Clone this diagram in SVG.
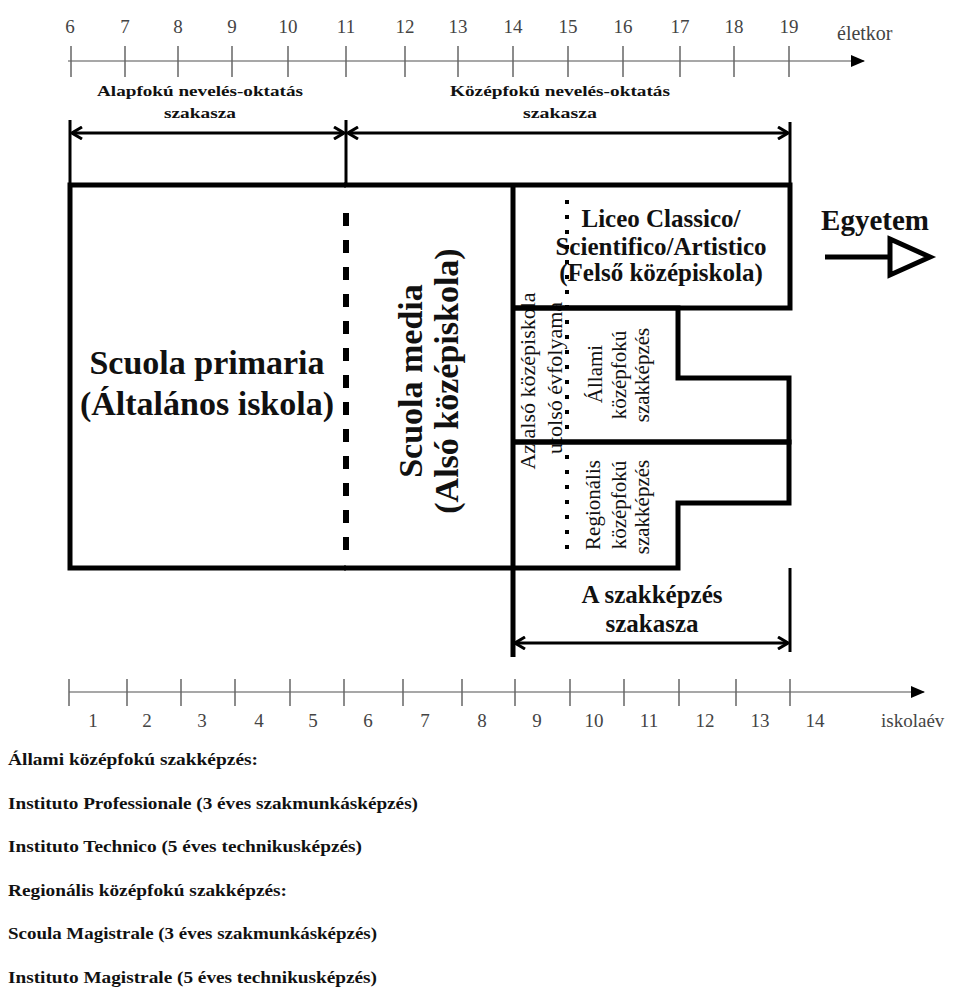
<svg xmlns="http://www.w3.org/2000/svg" width="962" height="987" viewBox="0 0 962 987">
<style>
  text { font-family: "Liberation Serif", "Times New Roman", serif; fill: #111; }
  .num { font-size: 19px; fill: #444; text-anchor: middle; }
  .axis { stroke: #8a8a8a; stroke-width: 1.6; fill: none; }
  .tick { stroke: #666; stroke-width: 1.5; }
  .thick { stroke: #000; stroke-width: 5; fill: none; }
  .brk { stroke: #000; stroke-width: 3; fill: none; }
  .hdr { font-size: 15px; font-weight: bold; text-anchor: middle; }
  .big { font-size: 34px; font-weight: bold; text-anchor: middle; }
  .mid { font-size: 25px; font-weight: bold; text-anchor: middle; }
  .small { font-size: 21px; text-anchor: middle; }
  .leg { font-size: 16px; font-weight: bold; }
</style>
<defs>
  <marker id="chev" viewBox="0 0 12 14" refX="11" refY="7" markerWidth="12" markerHeight="14" markerUnits="userSpaceOnUse" orient="auto-start-reverse">
    <path d="M1,1 L11,7 L1,13" fill="none" stroke="#000" stroke-width="3"/>
  </marker>
  <marker id="tri" viewBox="0 0 14 12" refX="13" refY="6" markerWidth="14" markerHeight="12" markerUnits="userSpaceOnUse" orient="auto">
    <path d="M0,0 L14,6 L0,12 Z" fill="#000"/>
  </marker>
</defs>

<g id="axis-age">
  <line class="axis" x1="68" y1="61" x2="864" y2="61" marker-end="url(#tri)"/>
  <g class="tick">
    <line x1="71" y1="46" x2="71" y2="77"/><line x1="125" y1="46" x2="125" y2="77"/>
    <line x1="178" y1="46" x2="178" y2="77"/><line x1="232" y1="46" x2="232" y2="77"/>
    <line x1="288" y1="46" x2="288" y2="77"/><line x1="346" y1="46" x2="346" y2="77"/>
    <line x1="405" y1="46" x2="405" y2="77"/><line x1="458" y1="46" x2="458" y2="77"/>
    <line x1="513" y1="46" x2="513" y2="77"/><line x1="568" y1="46" x2="568" y2="77"/>
    <line x1="623" y1="46" x2="623" y2="77"/><line x1="680" y1="46" x2="680" y2="77"/>
    <line x1="734" y1="46" x2="734" y2="77"/><line x1="789" y1="46" x2="789" y2="77"/>
  </g>
  <text class="num" x="70" y="33">6</text><text class="num" x="125" y="33">7</text>
  <text class="num" x="178" y="33">8</text><text class="num" x="232" y="33">9</text>
  <text class="num" x="288" y="33">10</text><text class="num" x="346" y="33">11</text>
  <text class="num" x="405" y="33">12</text><text class="num" x="458" y="33">13</text>
  <text class="num" x="513" y="33">14</text><text class="num" x="568" y="33">15</text>
  <text class="num" x="623" y="33">16</text><text class="num" x="680" y="33">17</text>
  <text class="num" x="734" y="33">18</text><text class="num" x="789" y="33">19</text>
  <text x="837" y="40" style="font-size:20px;fill:#444">életkor</text>
</g>

<g id="stage-labels">
  <text class="hdr" x="200" y="96" textLength="206" lengthAdjust="spacingAndGlyphs">Alapfokú nevelés-oktatás</text>
  <text class="hdr" x="200" y="118" textLength="72" lengthAdjust="spacingAndGlyphs">szakasza</text>
  <text class="hdr" x="560" y="96" textLength="220" lengthAdjust="spacingAndGlyphs">Középfokú nevelés-oktatás</text>
  <text class="hdr" x="560" y="118" textLength="74" lengthAdjust="spacingAndGlyphs">szakasza</text>
</g>

<g id="primaria">
  <path class="thick" d="M346,185 H70 V568 H346"/>
  <text class="big" x="207" y="374">Scuola primaria</text>
  <text class="big" x="207" y="415">(Általános iskola)</text>
</g>

<g id="media">
  <path class="thick" d="M344,185 H513 M344,568 H513"/>
  <line x1="346" y1="213" x2="346" y2="552" stroke="#000" stroke-width="6" stroke-dasharray="13 14"/>
  <text class="big" x="422" y="381" transform="rotate(-90 422 381)">Scuola media</text>
  <text class="big" x="458" y="381" transform="rotate(-90 458 381)">(Alsó középiskola)</text>
</g>

<g id="liceo">
  <path class="thick" d="M513,185 H790 V308 H513"/>
  <text class="mid" x="661" y="227">Liceo Classico/</text>
  <text class="mid" x="661" y="255">Scientifico/Artistico</text>
  <text class="mid" x="661" y="281">(Felső középiskola)</text>
</g>

<g id="utolso-evfolyam">
  <line x1="567" y1="200" x2="567" y2="560" stroke="#000" stroke-width="4" stroke-dasharray="4 11"/>
  <text class="small" x="535" y="381" style="font-size:22px" transform="rotate(-90 535 381)">Az alsó középiskola</text>
  <text class="small" x="562" y="378" style="font-size:22px" transform="rotate(-90 562 378)">utolsó évfolyama</text>
</g>

<g id="allami">
  <path class="thick" d="M513,308 H678 V378 H789 V442 H513"/>
  <text class="small" x="602" y="374" transform="rotate(-90 602 374)">Állami</text>
  <text class="small" x="626" y="375" transform="rotate(-90 626 375)">középfokú</text>
  <text class="small" x="649" y="375" transform="rotate(-90 649 375)">szakképzés</text>
</g>

<g id="regionalis">
  <path class="thick" d="M513,442 H789 V503 H678 V568 H513"/>
  <text class="small" x="600" y="505" transform="rotate(-90 600 505)">Regionális</text>
  <text class="small" x="626" y="505" transform="rotate(-90 626 505)">középfokú</text>
  <text class="small" x="649" y="507" transform="rotate(-90 649 507)">szakképzés</text>
</g>

<g id="egyetem">
  <text x="875" y="230" style="font-size:29px;font-weight:bold;text-anchor:middle">Egyetem</text>
</g>

<g id="szakkepzes-label">
  <text class="mid" x="652" y="603">A szakképzés</text>
  <text class="mid" x="652" y="632">szakasza</text>
</g>

<g id="connectors">
  <line class="thick" x1="513" y1="185" x2="513" y2="657" stroke-width="4"/>
  <line class="brk" x1="70" y1="120" x2="70" y2="185"/>
  <line class="brk" x1="346" y1="120" x2="346" y2="185" stroke-width="4"/>
  <line class="brk" x1="790" y1="122" x2="790" y2="185"/>
  <line class="brk" x1="72" y1="133" x2="344" y2="133" marker-start="url(#chev)" marker-end="url(#chev)"/>
  <line class="brk" x1="348" y1="133" x2="788" y2="133" marker-start="url(#chev)" marker-end="url(#chev)"/>
  <line class="brk" x1="790" y1="568" x2="790" y2="652"/>
  <line class="brk" x1="515" y1="643" x2="788" y2="643" marker-start="url(#chev)" marker-end="url(#chev)"/>
  <line x1="825" y1="257" x2="890" y2="257" stroke="#000" stroke-width="5"/>
  <path d="M890,239 L930,257 L890,275 Z" fill="#fff" stroke="#000" stroke-width="5" stroke-linejoin="miter"/>
</g>

<g id="axis-school">
  <line class="axis" x1="69" y1="692" x2="924" y2="692" marker-end="url(#tri)"/>
  <g class="tick">
    <line x1="69" y1="679" x2="69" y2="706"/><line x1="127" y1="679" x2="127" y2="706"/>
    <line x1="181" y1="679" x2="181" y2="706"/><line x1="235" y1="679" x2="235" y2="706"/>
    <line x1="290" y1="679" x2="290" y2="706"/><line x1="344" y1="679" x2="344" y2="706"/>
    <line x1="403" y1="679" x2="403" y2="706"/><line x1="462" y1="679" x2="462" y2="706"/>
    <line x1="515" y1="679" x2="515" y2="706"/><line x1="570" y1="679" x2="570" y2="706"/>
    <line x1="624" y1="679" x2="624" y2="706"/><line x1="679" y1="679" x2="679" y2="706"/>
    <line x1="736" y1="679" x2="736" y2="706"/><line x1="790" y1="679" x2="790" y2="706"/>
  </g>
  <text class="num" x="93" y="727">1</text><text class="num" x="147" y="727">2</text>
  <text class="num" x="202" y="727">3</text><text class="num" x="259" y="727">4</text>
  <text class="num" x="313" y="727">5</text><text class="num" x="368" y="727">6</text>
  <text class="num" x="425" y="727">7</text><text class="num" x="482" y="727">8</text>
  <text class="num" x="537" y="727">9</text><text class="num" x="594" y="727">10</text>
  <text class="num" x="649" y="727">11</text><text class="num" x="705" y="727">12</text>
  <text class="num" x="760" y="727">13</text><text class="num" x="815" y="727">14</text>
  <text x="881" y="727" style="font-size:19px;fill:#444">iskolaév</text>
</g>

<g id="legend">
  <text class="leg" x="8" y="765" textLength="250" lengthAdjust="spacingAndGlyphs">Állami középfokú szakképzés:</text>
  <text class="leg" x="8" y="809" textLength="410" lengthAdjust="spacingAndGlyphs">Instituto Professionale (3 éves szakmunkásképzés)</text>
  <text class="leg" x="8" y="852" textLength="354" lengthAdjust="spacingAndGlyphs">Instituto Technico (5 éves technikusképzés)</text>
  <text class="leg" x="8" y="896" textLength="279" lengthAdjust="spacingAndGlyphs">Regionális középfokú szakképzés:</text>
  <text class="leg" x="8" y="939" textLength="369" lengthAdjust="spacingAndGlyphs">Scoula Magistrale (3 éves szakmunkásképzés)</text>
  <text class="leg" x="8" y="983" textLength="369" lengthAdjust="spacingAndGlyphs">Instituto Magistrale (5 éves technikusképzés)</text>
</g>
</svg>
